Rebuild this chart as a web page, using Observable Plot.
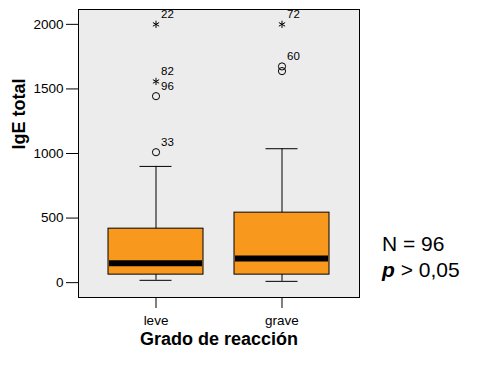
<!DOCTYPE html>
<html>
<head>
<meta charset="utf-8">
<script src="https://cdn.jsdelivr.net/npm/d3@7"></script>
<script src="https://cdn.jsdelivr.net/npm/@observablehq/plot@0.6"></script>
<style>
  html, body { margin: 0; padding: 0; background: white; }
  #wrap { position: relative; width: 481px; height: 369px; }
  #note { position: absolute; left: 382px; top: 231px; font-family: "Liberation Sans", Arial, sans-serif; font-size: 21px; line-height: 26px; color: black; }
</style>
</head>
<body>
<div id="wrap"><div id="note">N = 96<br><b><i>p</i></b> &gt; 0,05</div></div>
<script>
const categories = ["leve", "grave"];
const q1 = [62, 62];
const median = [151, 187];
const q3 = [418, 542];
const whiskerLow = [18, 10];
const whiskerHigh = [900, 1037];
const yTicks = [0, 500, 1000, 1500, 2000];

const outlierGroup = ["leve", "leve", "leve", "leve", "grave", "grave", "grave"];
const outlierValue = [1010, 1444, 1558, 2000, 1638, 1674, 2000];
const outlierKind = ["circle", "circle", "star", "star", "circle", "circle", "star"];
const outlierLabel = ["33", "96", "82", "22", "", "60", "72"];

const boxes = categories.map((c, i) => ({cat: c, q1: q1[i], med: median[i], q3: q3[i], lo: whiskerLow[i], hi: whiskerHigh[i]}));
const outliers = outlierGroup.map((g, i) => ({cat: g, v: outlierValue[i], kind: outlierKind[i], label: outlierLabel[i]}));

const chart = Plot.plot({
  width: 481,
  height: 369,
  marginLeft: 78,
  marginRight: 122,
  marginTop: 9,
  marginBottom: 72,
  style: {background: "white", fontFamily: "'Liberation Sans', Arial, sans-serif", fontSize: "13px", color: "black"},
  x: {domain: categories, paddingInner: 0.246, paddingOuter: 0.238},
  y: {domain: [-115, 2115]},
  marks: [
    Plot.frame({fill: "#ECECEC"}),
    Plot.axisY({ticks: yTicks, tickFormat: d => String(d), tickSize: 12, tickPadding: 3, label: null, fontSize: 13.5, fill: "black"}),
    Plot.axisX({tickSize: 11, tickPadding: 7, label: null, fontSize: 13.5, fill: "black"}),
    Plot.ruleX(boxes, {x: "cat", y1: "lo", y2: "hi", stroke: "black", strokeWidth: 1}),
    Plot.tickY(boxes, {x: "cat", y: "lo", stroke: "black", insetLeft: 31.5, insetRight: 31.5}),
    Plot.tickY(boxes, {x: "cat", y: "hi", stroke: "black", insetLeft: 31.5, insetRight: 31.5}),
    Plot.barY(boxes, {x: "cat", y1: "q1", y2: "q3", fill: "#F8991D", stroke: "black", strokeWidth: 1}),
    Plot.tickY(boxes, {x: "cat", y: "med", stroke: "black", strokeWidth: 6, insetLeft: 1, insetRight: 1}),
    Plot.dot(outliers.filter(d => d.kind === "circle"), {x: "cat", y: "v", r: 3.6, stroke: "black", fill: "none", strokeWidth: 1}),
    Plot.dot(outliers.filter(d => d.kind === "star"), {x: "cat", y: "v", r: 3.4, symbol: "asterisk", stroke: "black", strokeWidth: 1}),
    Plot.text(outliers.filter(d => d.label), {x: "cat", y: "v", text: "label", textAnchor: "start", dx: 5, dy: -10, fontSize: 11.5, fill: "black"}),
    Plot.frame({stroke: "black", strokeWidth: 1}),
    Plot.text(["Grado de reacción"], {frameAnchor: "bottom", dy: 47, text: d => d, fontSize: 18, fontWeight: "bold", fill: "black"}),
    Plot.text(["IgE total"], {frameAnchor: "left", dx: -59, dy: -4, rotate: -90, text: d => d, fontSize: 18, fontWeight: "bold", fill: "black"})
  ]
});
document.getElementById("wrap").prepend(chart);
</script>
</body>
</html>
